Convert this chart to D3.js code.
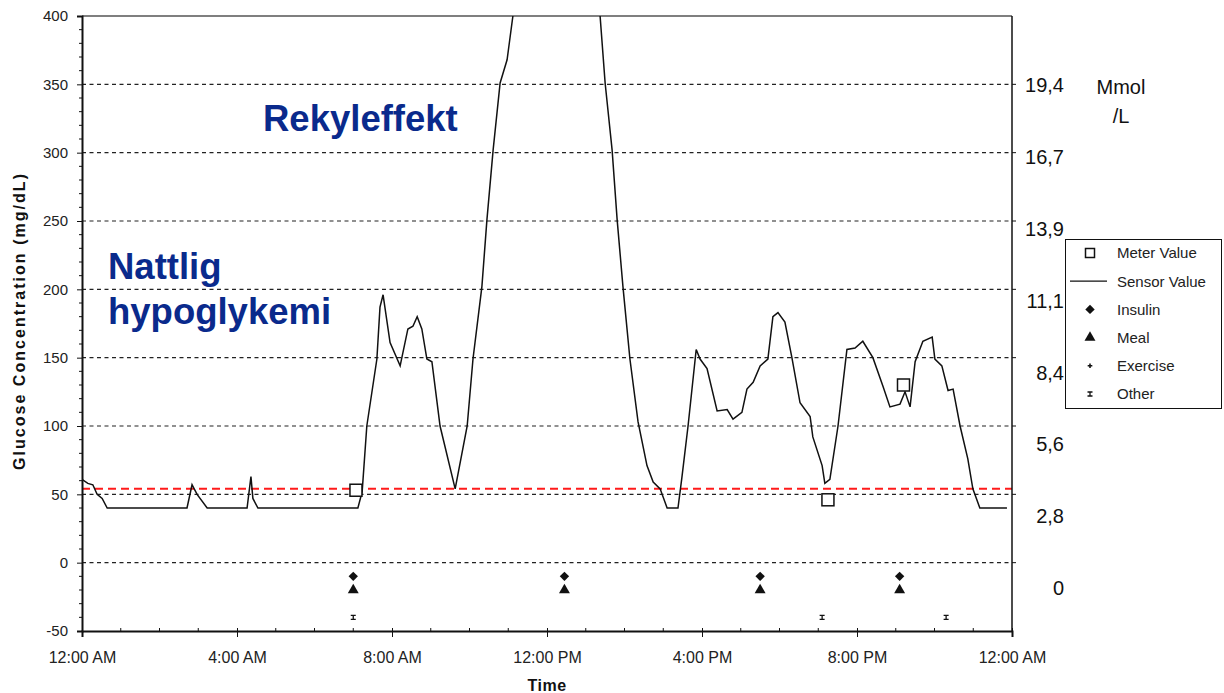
<!DOCTYPE html>
<html>
<head>
<meta charset="utf-8">
<title>Glucose sensor</title>
<script src="https://cdn.jsdelivr.net/npm/d3@7"></script>
<style>
body { margin:0; background:#fff; }
svg text { font-family: "Liberation Sans", Arial, sans-serif; }
</style>
</head>
<body>
<script>
// sensor trace, hours after midnight and mg/dL (above 400 is clipped)
var sensorHours = [0, 0.15, 0.28, 0.39, 0.52, 0.65, 2.71, 2.84, 2.97, 3.23, 4.26, 4.36, 4.41, 4.54,
  7.12, 7.23, 7.35, 7.61, 7.69, 7.77, 7.95, 8.21, 8.41, 8.54, 8.65, 8.77, 8.90, 9.03, 9.24, 9.63,
  9.94, 10.09, 10.32, 10.45, 10.61, 10.79, 10.97, 11.12, 11.3, 13.1, 13.37, 13.5, 13.68, 13.81,
  13.96, 14.14, 14.35, 14.58, 14.74, 14.92, 15.1, 15.38, 15.48, 15.64, 15.85, 15.95, 16.13, 16.39,
  16.65, 16.8, 17.03, 17.16, 17.32, 17.5, 17.7, 17.83, 17.96, 18.14, 18.32, 18.53, 18.79, 18.86,
  19.1, 19.17, 19.3, 19.51, 19.74, 19.95, 20.15, 20.41, 20.67, 20.85, 21.11, 21.24, 21.37, 21.5,
  21.7, 21.94, 22.01, 22.19, 22.35, 22.48, 22.66, 22.86, 22.99, 23.17, 23.87];
var sensorValues = [61, 58, 57, 50, 47, 40, 40, 57, 50, 40, 40, 63, 47, 40,
  40, 52, 100, 149, 187, 196, 161, 144, 171, 173, 180, 171, 149, 147, 100, 54,
  100, 149, 202, 251, 302, 351, 368, 400, 440, 440, 400, 351, 302, 251,
  202, 149, 103, 71, 59, 54, 40, 40, 62, 100, 156, 149, 142, 111,
  112, 105, 110, 127, 132, 144, 149, 180, 183, 176, 150, 117, 107, 92,
  71, 58, 61, 100, 156, 157, 162, 150, 129, 114, 116, 125, 114, 147,
  162, 165, 149, 144, 126, 127, 100, 76, 54, 40, 40];

var meterHours = [7.07, 19.25, 21.2];
var meterValues = [53, 46, 130];

var insulinHours = [7.0, 12.45, 17.5, 21.1];
var mealHours = [7.0, 12.45, 17.5, 21.1];
var exerciseHours = [];
var otherHours = [7.0, 19.1, 22.3];
// event rows below zero
var eventRow = { insulin: -10, meal: -20, exercise: -30, other: -40 };

var hypoLimit = 54;
var gridValues = [0, 50, 100, 150, 200, 250, 300, 350];
var mmolLabels = ["19,4", "16,7", "13,9", "11,1", "8,4", "5,6", "2,8", "0"];
var mmolAt = [350, 300, 250, 200, 150, 100, 50, 0];
var legendNames = ["Meter Value", "Sensor Value", "Insulin", "Meal", "Exercise", "Other"];

var width = 1224, height = 693;
var plotLeft = 82, plotRight = 1012, plotTop = 16, plotBottom = 631;

var day0 = new Date(2000, 0, 1);
function hourToDate(h){ return new Date(day0.getTime() + h * 3600 * 1000); }

var svg = d3.select("body").append("svg")
  .attr("width", width)
  .attr("height", height);

var x = d3.scaleTime()
  .domain([day0, hourToDate(24)])
  .range([plotLeft, plotRight]);
var y = d3.scaleLinear()
  .domain([-50, 400])
  .range([plotBottom, plotTop]);
// hand placed mmol labels, a bit more spread than the grid
var yMmol = d3.scaleLinear()
  .domain([350, 0])
  .range([85, 588]);

svg.append("clipPath").attr("id", "plot")
  .append("rect").attr("x", plotLeft).attr("y", plotTop)
  .attr("width", plotRight - plotLeft).attr("height", plotBottom - plotTop);

// grid
svg.append("g").selectAll("line")
  .data(gridValues).enter().append("line")
  .attr("x1", plotLeft).attr("x2", plotRight)
  .attr("y1", function(d){ return y(d); })
  .attr("y2", function(d){ return y(d); })
  .attr("stroke", "#222")
  .attr("stroke-width", 1.2)
  .attr("stroke-dasharray", "4,3.5");

// top border
svg.append("line")
  .attr("x1", plotLeft).attr("x2", plotRight)
  .attr("y1", plotTop).attr("y2", plotTop)
  .attr("stroke", "#555").attr("stroke-width", 1.5);

// hypo limit
svg.append("line")
  .attr("x1", plotLeft).attr("x2", plotRight)
  .attr("y1", y(hypoLimit)).attr("y2", y(hypoLimit))
  .attr("stroke", "#ff1a1a")
  .attr("stroke-width", 2)
  .attr("stroke-dasharray", "8,5");

// sensor line
var sensor = sensorHours.map(function(h, i){ return { t: hourToDate(h), v: sensorValues[i] }; });
var line = d3.line()
  .x(function(d){ return x(d.t); })
  .y(function(d){ return y(d.v); });
svg.append("path")
  .datum(sensor)
  .attr("clip-path", "url(#plot)")
  .attr("d", line)
  .attr("fill", "none")
  .attr("stroke", "#111")
  .attr("stroke-width", 1.5);

// meter squares
svg.append("g").selectAll("rect")
  .data(meterHours).enter().append("rect")
  .attr("x", function(d){ return x(hourToDate(d)) - 6; })
  .attr("y", function(d, i){ return y(meterValues[i]) - 6; })
  .attr("width", 12).attr("height", 12)
  .attr("fill", "#fff")
  .attr("stroke", "#111")
  .attr("stroke-width", 1.5);

// event markers
var diamond = d3.symbol().type(d3.symbolSquare).size(44);   // turned 45deg below
var triangle = d3.symbol().type(d3.symbolTriangle).size(52);
var cross = d3.symbol().type(d3.symbolCross).size(12);

svg.append("g").selectAll("path")
  .data(insulinHours).enter().append("path")
  .attr("d", diamond)
  .attr("transform", function(d){ return "translate(" + x(hourToDate(d)) + "," + y(eventRow.insulin) + ") rotate(45)"; })
  .attr("fill", "#111");
svg.append("g").selectAll("path")
  .data(mealHours).enter().append("path")
  .attr("d", triangle)
  .attr("transform", function(d){ return "translate(" + x(hourToDate(d)) + "," + y(eventRow.meal) + ")"; })
  .attr("fill", "#111");
svg.append("g").selectAll("path")
  .data(exerciseHours).enter().append("path")
  .attr("d", cross)
  .attr("transform", function(d){ return "translate(" + x(hourToDate(d)) + "," + y(eventRow.exercise) + ")"; })
  .attr("fill", "#111");

function otherMark(g){
  g.append("path")
    .attr("d", "M-2.5,-2 H2.5 M-2.5,2 H2.5 M0,-2 V2")
    .attr("stroke", "#111").attr("stroke-width", 1.3).attr("fill", "none");
}
svg.append("g").selectAll("g")
  .data(otherHours).enter().append("g")
  .attr("transform", function(d){ return "translate(" + x(hourToDate(d)) + "," + y(eventRow.other) + ")"; })
  .call(otherMark);

// axes
var yAxis = d3.axisLeft(y)
  .tickValues(d3.range(-50, 401, 50))
  .tickFormat(function(d){ return String(d); })
  .tickSize(5).tickPadding(9);
var gy = svg.append("g").attr("transform", "translate(" + plotLeft + ",0)").call(yAxis);
gy.select(".domain").attr("stroke", "#111").attr("stroke-width", 2);
gy.selectAll("text").attr("font-size", 15).attr("fill", "#222").attr("font-family", "Liberation Sans, Arial");
gy.selectAll(".tick line").attr("stroke", "#111");

svg.append("g").selectAll("line")
  .data(d3.range(-50, 400, 10).filter(function(d){ return d % 50 != 0; }))
  .enter().append("line")
  .attr("x1", plotLeft - 3).attr("x2", plotLeft)
  .attr("y1", function(d){ return y(d); }).attr("y2", function(d){ return y(d); })
  .attr("stroke", "#111");

var xAxis = d3.axisBottom(x)
  .ticks(d3.timeHour.every(4))
  .tickFormat(d3.timeFormat("%-I:%M %p"))
  .tickSize(6).tickPadding(15);
var gx = svg.append("g").attr("transform", "translate(0," + plotBottom + ")").call(xAxis);
gx.select(".domain").attr("stroke", "#111").attr("stroke-width", 2);
gx.selectAll("text").attr("font-size", 16).attr("fill", "#222").attr("font-family", "Liberation Sans, Arial");
gx.selectAll(".tick line").attr("stroke", "#111").attr("y1", -3);

svg.append("g").selectAll("line")
  .data(d3.range(1, 24).filter(function(h){ return h % 4 != 0; }))
  .enter().append("line")
  .attr("x1", function(h){ return x(hourToDate(h)); })
  .attr("x2", function(h){ return x(hourToDate(h)); })
  .attr("y1", plotBottom - 3).attr("y2", plotBottom + 1)
  .attr("stroke", "#111");

// right axis line with small ticks
svg.append("line")
  .attr("x1", plotRight).attr("x2", plotRight)
  .attr("y1", plotTop).attr("y2", plotBottom)
  .attr("stroke", "#111").attr("stroke-width", 1.5);
svg.append("g").selectAll("line")
  .data(gridValues).enter().append("line")
  .attr("x1", plotRight).attr("x2", plotRight + 4)
  .attr("y1", function(d){ return y(d); }).attr("y2", function(d){ return y(d); })
  .attr("stroke", "#111");

// axis titles
svg.append("text")
  .attr("transform", "translate(25,322) rotate(-90)")
  .attr("text-anchor", "middle")
  .attr("font-size", 16)
  .attr("font-weight", "bold")
  .attr("fill", "#111")
  .attr("textLength", 296)
  .attr("lengthAdjust", "spacing")
  .text("Glucose Concentration (mg/dL)");

svg.append("text")
  .attr("x", x(hourToDate(12))).attr("y", 691)
  .attr("text-anchor", "middle")
  .attr("font-size", 16)
  .attr("font-weight", "bold")
  .attr("letter-spacing", "0.5px")
  .attr("fill", "#111")
  .text("Time");

// mmol labels
svg.append("g").selectAll("text")
  .data(mmolLabels).enter().append("text")
  .attr("x", 1064)
  .attr("y", function(d, i){ return yMmol(mmolAt[i]); })
  .attr("dy", "0.36em")
  .attr("text-anchor", "end")
  .attr("font-size", 20)
  .attr("fill", "#111")
  .text(function(d){ return d; });

svg.append("text").attr("x", 1121).attr("y", 94)
  .attr("text-anchor", "middle").attr("font-size", 20).attr("fill", "#111").text("Mmol");
svg.append("text").attr("x", 1121).attr("y", 123)
  .attr("text-anchor", "middle").attr("font-size", 20).attr("fill", "#111").text("/L");

// annotations
var blue = "#0a2a8c";
svg.append("text").attr("x", 263).attr("y", 131)
  .attr("font-size", 36.5).attr("font-weight", "bold").attr("fill", blue).text("Rekyleffekt");
svg.append("text").attr("x", 108).attr("y", 279)
  .attr("font-size", 36.5).attr("font-weight", "bold").attr("fill", blue).text("Nattlig");
svg.append("text").attr("x", 108).attr("y", 324)
  .attr("font-size", 36.5).attr("font-weight", "bold").attr("fill", blue).text("hypoglykemi");

// legend
var lg = svg.append("g");
lg.append("rect")
  .attr("x", 1065.5).attr("y", 239.5)
  .attr("width", 156).attr("height", 169)
  .attr("fill", "#fff").attr("stroke", "#111");

var rowY = d3.scalePoint().domain(legendNames).range([253, 394]);
lg.selectAll("text")
  .data(legendNames).enter().append("text")
  .attr("x", 1117)
  .attr("y", function(d){ return rowY(d); })
  .attr("dy", "0.36em")
  .attr("font-family", "DejaVu Sans, Verdana")
  .attr("font-size", 15)
  .attr("fill", "#222")
  .text(function(d){ return d; });

var sx = 1090;
lg.append("rect").attr("x", sx - 4.5).attr("y", rowY("Meter Value") - 4.5)
  .attr("width", 9).attr("height", 9).attr("fill", "#fff").attr("stroke", "#111").attr("stroke-width", 1.5);
lg.append("line").attr("x1", 1070).attr("x2", 1107)
  .attr("y1", rowY("Sensor Value")).attr("y2", rowY("Sensor Value"))
  .attr("stroke", "#111").attr("stroke-width", 1.2);
lg.append("path").attr("d", diamond).attr("fill", "#111")
  .attr("transform", "translate(" + sx + "," + rowY("Insulin") + ") rotate(45)");
lg.append("path").attr("d", triangle).attr("fill", "#111")
  .attr("transform", "translate(" + sx + "," + rowY("Meal") + ")");
lg.append("path").attr("d", cross).attr("fill", "#111")
  .attr("transform", "translate(" + sx + "," + rowY("Exercise") + ")");
lg.append("g").attr("transform", "translate(" + sx + "," + rowY("Other") + ")").call(otherMark);
</script>
</body>
</html>
